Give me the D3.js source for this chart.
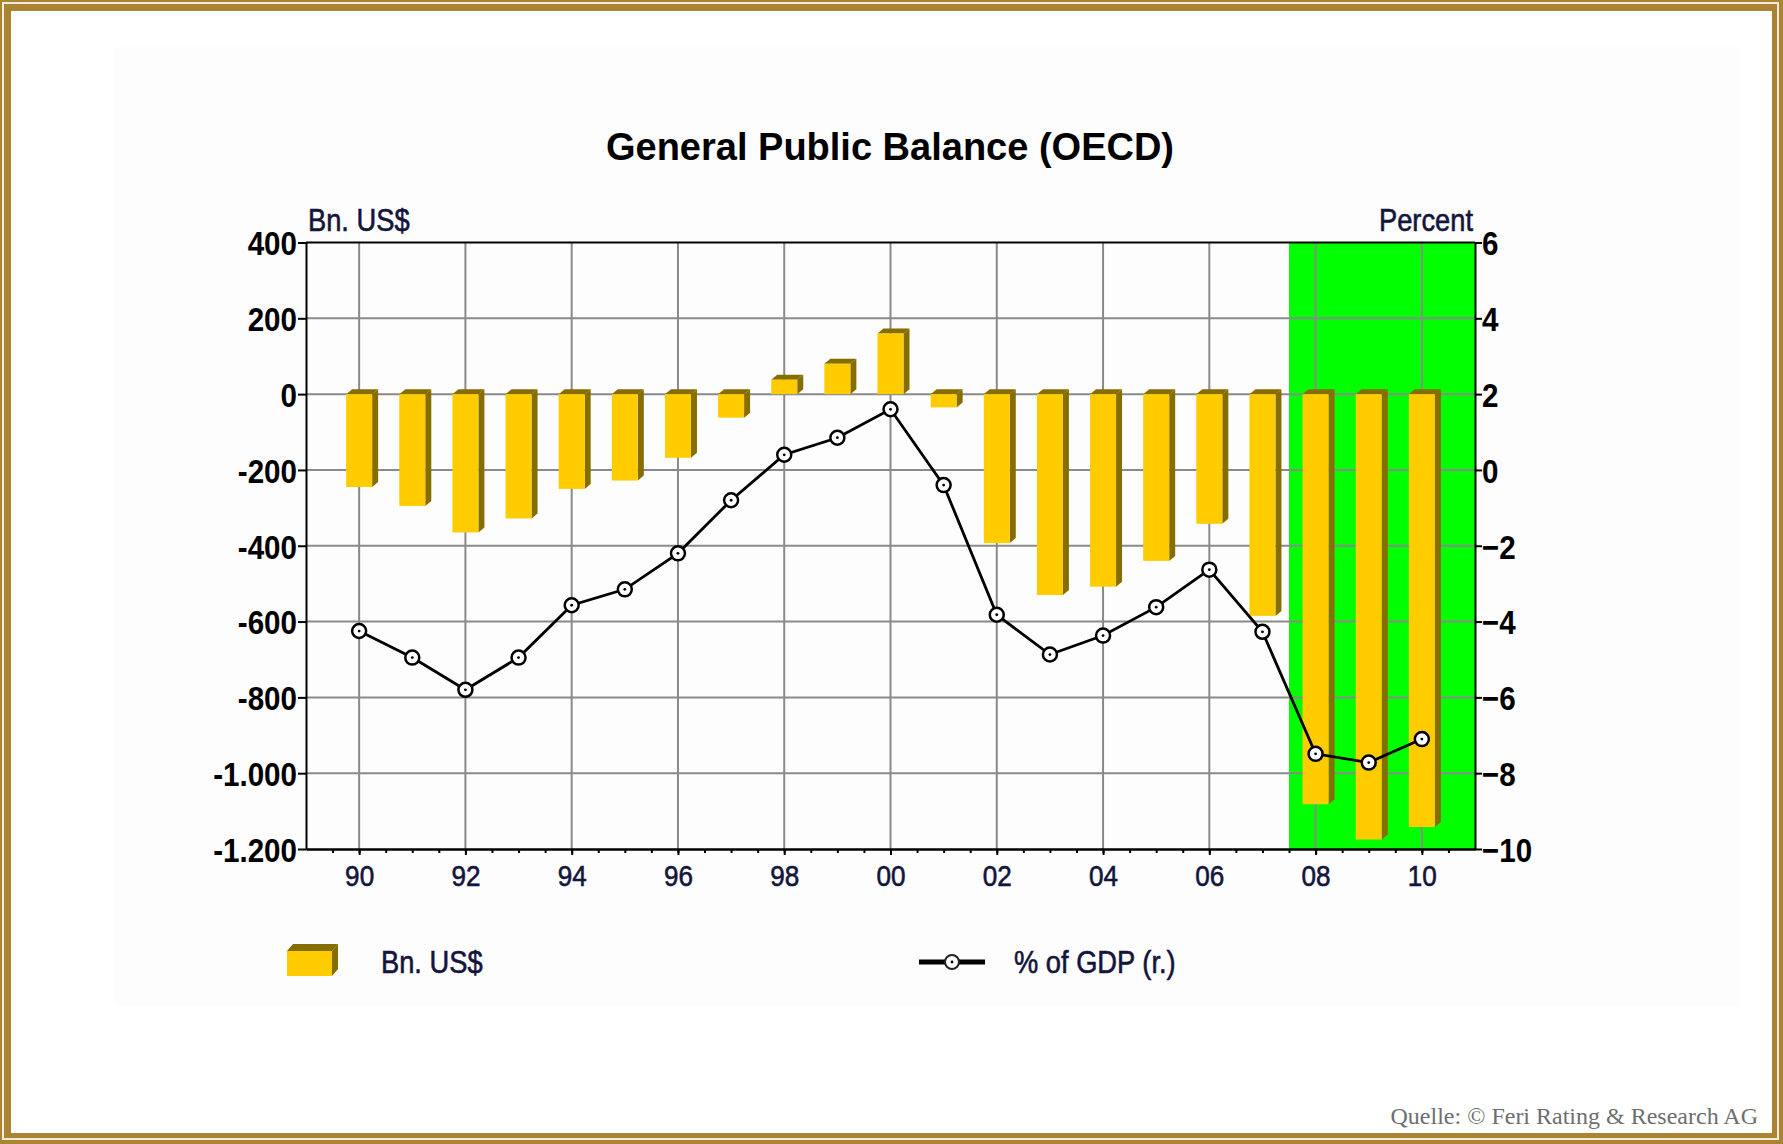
<!DOCTYPE html>
<html>
<head>
<meta charset="utf-8">
<script src="https://cdn.jsdelivr.net/npm/d3@7"></script>
<style>
  html, body { margin: 0; padding: 0; background: #fff; }
  svg { font-family: "Liberation Sans", Arial, sans-serif; }
</style>
</head>
<body>
<svg id="chart"></svg>
<script>
// General Public Balance (OECD), 1990-2010
const years = [1990, 1991, 1992, 1993, 1994, 1995, 1996, 1997, 1998, 1999, 2000,
               2001, 2002, 2003, 2004, 2005, 2006, 2007, 2008, 2009, 2010]
const bnUSD = [-245, -295, -365, -328, -250, -228, -168, -62, 38, 80, 160,
               -35, -393, -530, -508, -440, -342, -585, -1082, -1175, -1142]
const pctGDP = [-4.25, -4.95, -5.8, -4.95, -3.57, -3.15, -2.2, -0.8, 0.4, 0.85, 1.6,
                -0.4, -3.82, -4.87, -4.37, -3.62, -2.63, -4.27, -7.49, -7.72, -7.1]
const yearTicks = [1990, 1992, 1994, 1996, 1998, 2000, 2002, 2004, 2006, 2008, 2010]
const yearLabels = ['90', '92', '94', '96', '98', '00', '02', '04', '06', '08', '10']
const leftTicks = [-1200, -1000, -800, -600, -400, -200, 0, 200, 400]
const rightTicks = [-10, -8, -6, -4, -2, 0, 2, 4, 6]
const forecastFrom = 2007.5

const width = 1783
const height = 1144
const gold = '#aa8433'
const navy = '#14143c'

const svg = d3.select('#chart')
    .attr('width', width)
    .attr('height', height)

// frame
svg.append('rect').attr('width', width).attr('height', height).attr('fill', gold)
svg.append('rect').attr('x', 2).attr('y', 2).attr('width', width - 6).attr('height', height - 6).attr('fill', '#f4ecda')
svg.append('rect').attr('x', 4).attr('y', 4).attr('width', width - 10).attr('height', height - 10).attr('fill', gold)
svg.append('rect').attr('x', 11).attr('y', 11).attr('width', width - 22).attr('height', height - 22).attr('fill', '#fff')
svg.append('rect').attr('x', 113).attr('y', 47).attr('width', 1627).attr('height', 960).attr('fill', '#fdfdfd')

let plot = {left: 306, right: 1475, top: 242.5, bottom: 849}

xScale = d3.scaleLinear().domain([1989, 2011]).range([plot.left, plot.right])
yLeft = d3.scaleLinear().domain([-1200, 400]).range([plot.bottom, plot.top])
yRight = d3.scaleLinear().domain([-10, 6]).range([plot.bottom, plot.top])

const deLocale = d3.formatLocale({decimal: ',', thousands: '.', grouping: [3], currency: ['', ''], minus: '-'})
const fmt = deLocale.format(',d')

// title
svg.append('text')
    .attr('x', 890).attr('y', 160)
    .attr('text-anchor', 'middle')
    .attr('font-size', 38).attr('font-weight', 'bold')
    .attr('fill', '#000')
    .text('General Public Balance (OECD)')

// condensed text helper
function narrowText(x, y, s, anchor, size, color) {
    return svg.append('text')
        .attr('transform', `translate(${x},${y}) scale(0.88,1)`)
        .attr('text-anchor', anchor)
        .attr('font-size', size)
        .attr('fill', color)
        .attr('stroke', color).attr('stroke-width', 0.6)
        .text(s)
}

narrowText(308, 231, 'Bn. US$', 'start', 31, navy)
narrowText(1473, 231, 'Percent', 'end', 31, navy)

// forecast band
svg.append('rect')
    .attr('x', xScale(forecastFrom))
    .attr('y', plot.top)
    .attr('width', xScale(2011) - xScale(forecastFrom))
    .attr('height', plot.bottom - plot.top)
    .attr('fill', '#00ff00')

// grid
const grid = svg.append('g').attr('stroke', '#8a8a8a').attr('stroke-width', 2)
grid.selectAll('.hgrid').data(leftTicks.filter(d => d > -1200 && d < 400))
    .enter().append('line')
    .attr('x1', plot.left).attr('x2', plot.right)
    .attr('y1', d => yLeft(d)).attr('y2', d => yLeft(d))
grid.selectAll('.vgrid').data(yearTicks)
    .enter().append('line')
    .attr('x1', d => xScale(d)).attr('x2', d => xScale(d))
    .attr('y1', plot.top).attr('y2', plot.bottom)

// 3d bars
const barData = years.map((y, i) => ({year: y, value: bnUSD[i]}))
const halfW = 13, dx = 6, dy = 5
const front = '#ffcc00', shade = '#856d00'

const bars = svg.selectAll('.bar').data(barData).enter().append('g')
bars.append('polygon')
    .attr('fill', shade)
    .attr('points', d => {
        let xr = xScale(d.year) + halfW
        let top = yLeft(Math.max(0, d.value)), bot = yLeft(Math.min(0, d.value))
        return [[xr, top], [xr + dx, top - dy], [xr + dx, bot - dy], [xr, bot]].join(' ')
    })
bars.append('polygon')
    .attr('fill', shade)
    .attr('points', d => {
        let xl = xScale(d.year) - halfW, xr = xScale(d.year) + halfW
        let top = yLeft(Math.max(0, d.value))
        return [[xl, top], [xl + dx, top - dy], [xr + dx, top - dy], [xr, top]].join(' ')
    })
bars.append('rect')
    .attr('fill', front)
    .attr('x', d => xScale(d.year) - halfW)
    .attr('width', halfW * 2)
    .attr('y', d => yLeft(Math.max(0, d.value)))
    .attr('height', d => Math.abs(yLeft(d.value) - yLeft(0)))

// % of GDP line
const lineData = years.map((y, i) => ({year: y, pct: pctGDP[i]}))
svg.append('path')
    .datum(lineData)
    .attr('fill', 'none')
    .attr('stroke', '#000')
    .attr('stroke-width', 2.8)
    .attr('d', d3.line().x(d => xScale(d.year)).y(d => yRight(d.pct)))

svg.selectAll('.marker').data(lineData)
    .enter().append('circle')
    .attr('cx', d => xScale(d.year)).attr('cy', d => yRight(d.pct))
    .attr('r', 7)
    .attr('fill', '#fff').attr('stroke', '#000').attr('stroke-width', 2.5)
svg.selectAll('.dot').data(lineData)
    .enter().append('circle')
    .attr('cx', d => xScale(d.year)).attr('cy', d => yRight(d.pct))
    .attr('r', 1.4).attr('fill', '#000')

// axes
const leftAxis = svg.append('g')
    .attr('transform', `translate(${plot.left},0)`)
    .call(d3.axisLeft(yLeft).tickValues(leftTicks).tickFormat(fmt).tickSize(8).tickSizeOuter(0))
const rightAxis = svg.append('g')
    .attr('transform', `translate(${plot.right},0)`)
    .call(d3.axisRight(yRight).tickValues(rightTicks).tickFormat(d3.format('d')).tickSize(7).tickSizeOuter(0))
const minorAxis = svg.append('g')
    .attr('transform', `translate(0,${plot.bottom})`)
    .call(d3.axisBottom(xScale).tickValues(d3.range(1989.5, 2011, 0.5)).tickFormat('').tickSize(4).tickSizeOuter(0))
const bottomAxis = svg.append('g')
    .attr('transform', `translate(0,${plot.bottom})`)
    .call(d3.axisBottom(xScale).tickValues(yearTicks).tickFormat((d, i) => yearLabels[i]).tickSize(6).tickSizeOuter(0))

;[leftAxis, rightAxis, minorAxis, bottomAxis].forEach(a => {
    a.attr('font-family', null)
    a.selectAll('line').attr('stroke', '#000').attr('stroke-width', 2)
    a.select('.domain').attr('stroke', '#000').attr('stroke-width', 2)
})

leftAxis.selectAll('text')
    .attr('x', null).attr('dy', '0.36em')
    .attr('transform', 'translate(-9,0) scale(0.87,1)')
    .attr('font-size', 34).attr('font-weight', 'bold')
    .attr('fill', '#000')
rightAxis.selectAll('text')
    .attr('x', null).attr('dy', '0.36em')
    .attr('transform', 'translate(7,0) scale(0.87,1)')
    .attr('font-size', 34).attr('font-weight', 'bold')
    .attr('fill', '#000')
bottomAxis.selectAll('text')
    .attr('y', null).attr('dy', null)
    .attr('transform', 'translate(0,37) scale(0.9,1)')
    .attr('font-size', 29)
    .attr('fill', navy)
    .attr('stroke', navy).attr('stroke-width', 0.6)

// top border of plot
svg.append('line')
    .attr('x1', plot.left).attr('x2', plot.right)
    .attr('y1', plot.top).attr('y2', plot.top)
    .attr('stroke', '#000').attr('stroke-width', 2)

// legend
const lx = 287, ly = 951
svg.append('polygon').attr('fill', shade)
    .attr('points', [[lx, ly], [lx + 6, ly - 7], [lx + 51, ly - 7], [lx + 45, ly]].join(' '))
svg.append('polygon').attr('fill', shade)
    .attr('points', [[lx + 45, ly], [lx + 51, ly - 7], [lx + 51, ly + 18], [lx + 45, ly + 25]].join(' '))
svg.append('rect').attr('x', lx).attr('y', ly).attr('width', 45).attr('height', 25).attr('fill', front)
narrowText(381, 973, 'Bn. US$', 'start', 31, navy)

svg.append('line')
    .attr('x1', 919).attr('x2', 985).attr('y1', 962).attr('y2', 962)
    .attr('stroke', '#000').attr('stroke-width', 5)
svg.append('circle').attr('cx', 952).attr('cy', 962).attr('r', 7)
    .attr('fill', '#fff').attr('stroke', '#222').attr('stroke-width', 2)
svg.append('circle').attr('cx', 952).attr('cy', 962).attr('r', 1.4).attr('fill', '#000')
narrowText(1014, 973, '% of GDP (r.)', 'start', 31, navy)

// source
svg.append('text')
    .attr('x', 1758).attr('y', 1124)
    .attr('text-anchor', 'end')
    .style('font-family', '"Liberation Serif", "Times New Roman", serif')
    .attr('font-size', 24)
    .attr('fill', '#6e6e6e')
    .text('Quelle: © Feri Rating & Research AG')
</script>
</body>
</html>
